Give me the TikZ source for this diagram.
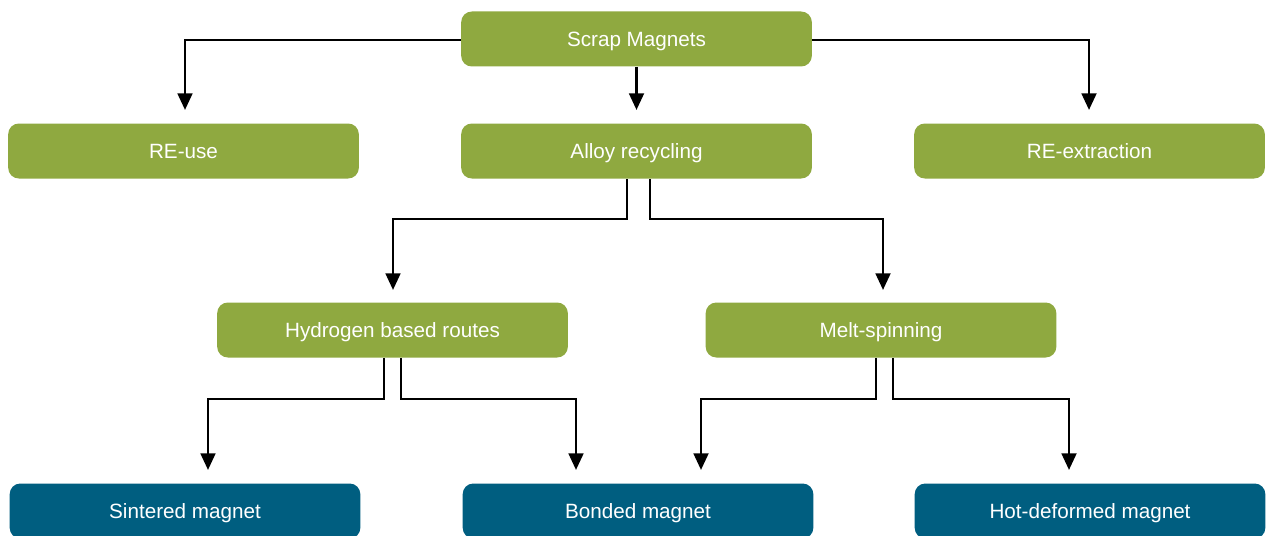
\documentclass[tikz,border=0pt]{standalone}
\usepackage{fontspec}
\setmainfont{Liberation Sans}
\usetikzlibrary{arrows.meta}
\definecolor{boxgreen}{RGB}{143,169,64}
\definecolor{boxblue}{RGB}{0,94,128}
\begin{document}
\begin{tikzpicture}[x=0.75pt,y=-0.75pt,
  gbox/.style={fill=boxgreen,draw=none,rounded corners=8pt,minimum width=263pt,minimum height=41.25pt,inner sep=0pt,text=white,font=\fontsize{15.5}{18}\selectfont,text height=11.1pt,text depth=0pt},
  bbox/.style={gbox,fill=boxblue},
  conn/.style={line width=2.1pt,-{Triangle[width=11pt,length=12.5pt]}}]
\useasboundingbox (0,0) rectangle (1266,535);
\clip (0,0) rectangle (1266,535);
\node[gbox] (scrap) at (636.5,39) {Scrap Magnets};
\node[gbox] (reuse) at (183.5,151) {RE-use};
\node[gbox] (alloy) at (636.5,151) {Alloy recycling};
\node[gbox] (reext) at (1089.5,151) {RE-extraction};
\node[gbox] (hydro) at (392.5,330) {Hydrogen based routes};
\node[gbox] (melt) at (881,330) {Melt-spinning};
\node[bbox] (sint) at (185,511) {Sintered magnet};
\node[bbox] (bond) at (638,511) {Bonded magnet};
\node[bbox] (hot) at (1090,511) {Hot-deformed magnet};
% level 1
\draw[conn] (scrap.west |- 0,40) -| (185,110) coordinate (c1);
\draw[conn] (scrap.south) -- (636.5,110) coordinate (c2);
\draw[conn] (scrap.east |- 0,40) -| (1089,110) coordinate (c3);
% alloy
\draw[conn] (alloy.south -| 627,0) |- (393,219) -- (393,290) coordinate (c4);
\draw[conn] (alloy.south -| 650,0) |- (883,219) -- (883,290) coordinate (c5);
% hydrogen
\draw[conn] (hydro.south -| 384,0) |- (208,399) -- (208,470) coordinate (c6);
\draw[conn] (hydro.south -| 401,0) |- (576,399) -- (576,470) coordinate (c7);
% melt
\draw[conn] (melt.south -| 876,0) |- (701,399) -- (701,470) coordinate (c8);
\draw[conn] (melt.south -| 893,0) |- (1069,399) -- (1069,470) coordinate (c9);
\end{tikzpicture}
\end{document}
